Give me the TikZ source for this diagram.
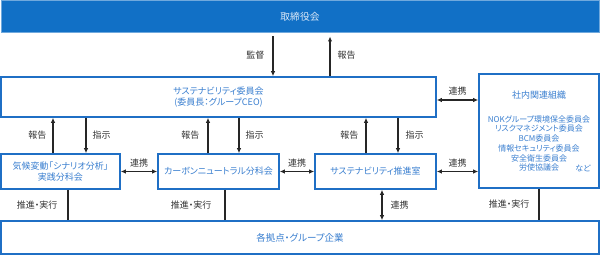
\documentclass[tikz,border=0pt]{standalone}
\usepackage{fontspec}
\setmainfont{Noto Sans CJK JP}[RawFeature=+palt]
\usetikzlibrary{arrows.meta}
\definecolor{boardblue}{HTML}{1170C6}
\definecolor{boxblue}{HTML}{1F6FC5}
\definecolor{txtblue}{HTML}{3A7FD0}
\definecolor{lblgray}{HTML}{333333}
\definecolor{boardtxt}{HTML}{DCE9F8}
\begin{document}
\begin{tikzpicture}[x=1pt,y=-1pt,>={Latex[length=5pt,width=4.5pt]},
		box/.style={draw=boxblue,line width=1.6pt,fill=white,text=txtblue,inner sep=0pt,
			font=\fontsize{9}{11}\selectfont,align=center},
		lbl/.style={text=lblgray,inner sep=0pt,font=\fontsize{9}{11}\selectfont},
		arr/.style={->,line width=1.2pt,draw=black!85},
		dbl/.style={<->,line width=1.2pt,draw=black!85},
		link/.style={line width=1.2pt,draw=black!85}]
	\useasboundingbox (0,0) rectangle (600,256);
	% Boxes
	\node[box,fill=boardblue,draw=boardblue!60!white,line width=1pt,text=boardtxt,
		font=\fontsize{9.8}{11}\selectfont,
		minimum width=598pt,minimum height=32pt] (board) at (300,17) {取締役会};
	\node[box,minimum width=435pt,minimum height=40pt] (committee) at (218.5,97)
		{サステナビリティ委員会\\(委員長：グループCEO)};
	\node[box,minimum width=119pt,minimum height=35pt] (climate) at (60.5,171.5)
		{気候変動「シナリオ分析」\\実践分科会};
	\node[box,minimum width=121pt,minimum height=35pt] (carbon) at (218.5,171.5) {カーボンニュートラル分科会};
	\node[box,minimum width=121pt,minimum height=35pt] (office) at (375.5,171.5) {サステナビリティ推進室};
	\node[box,minimum width=120pt,minimum height=114pt] (related) at (539,131) {};
	\node[box,font=\fontsize{9.5}{11}\selectfont,minimum width=598pt,minimum height=33pt] (sites) at (300,237.5) {各拠点・グループ企業};
	% Related organisations
	\node[text=txtblue,inner sep=0pt,font=\fontsize{9}{11}\selectfont] (relTitle) at (539,95) {社内関連組織};
	\node[text=txtblue,inner sep=0pt,font=\fontsize{8}{9.7}\selectfont,align=center] (relList) at (539,143.5)
		{NOKグループ環境保全委員会\\リスクマネジメント委員会\\BCM委員会\\情報セキュリティ委員会\\安全衛生委員会\\労使協議会};
	\node[text=txtblue,inner sep=0pt,font=\fontsize{8}{9.7}\selectfont] (relEtc) at (583,168) {など};
	% Board <-> committee
	\coordinate (bdDown) at ([xshift=-27pt]board.south);
	\coordinate (bdUp) at ([xshift=30pt]board.south);
	\draw[arr,shorten <=3pt] (bdDown) -- (bdDown |- committee.north) node[lbl,midway,left=8pt] (lSuper) {監督};
	\draw[arr,shorten >=3pt] (bdUp |- committee.north) -- (bdUp) node[lbl,midway,right=7pt] (lReport) {報告};
	% Committee <-> subcommittees
	\foreach \n/\u/\d/\gu/\gd in {climate/-7.5/25.5/6/6,carbon/-10.5/20.5/8/6,office/-9.5/22.5/7/7}{
		\coordinate (\n Up) at ([xshift=\u pt]\n.north);
		\coordinate (\n Down) at ([xshift=\d pt]\n.north);
		\draw[arr] (\n Up) -- (\n Up |- committee.south) node[lbl,midway,left=\gu pt] (\n Rep) {報告};
		\draw[arr] (\n Down |- committee.south) -- (\n Down) node[lbl,midway,right=\gd pt] (\n Ins) {指示};
	}
	% Cooperation
	\coordinate (cmRight) at ([yshift=-3pt]committee.east);
	\draw[dbl] (cmRight) -- (cmRight -| related.west) node[lbl,midway,above=4pt] (lCoopA) {連携};
	\draw[dbl] (climate.east) -- (carbon.west) node[lbl,midway,above=4pt] (lCoopB) {連携};
	\draw[dbl] (carbon.east) -- (office.west) node[lbl,midway,above=4pt] (lCoopC) {連携};
	\draw[dbl] (office.east) -- (office.east -| related.west) node[lbl,midway,above=4pt] (lCoopD) {連携};
	% To sites
	\foreach \n/\s/\g in {climate/7.5/10,carbon/6.5/13,related/0/9}{
		\coordinate (\n Bot) at ([xshift=\s pt]\n.south);
		\draw[link] (\n Bot) -- (\n Bot |- sites.north) node[lbl,midway,left=\g pt] (\n Exe) {推進・実行};
	}
	\coordinate (officeBot) at ([xshift=6.5pt]office.south);
	\draw[dbl] (officeBot) -- (officeBot |- sites.north) node[lbl,midway,right=8pt] (lCoopE) {連携};
\end{tikzpicture}
\end{document}
